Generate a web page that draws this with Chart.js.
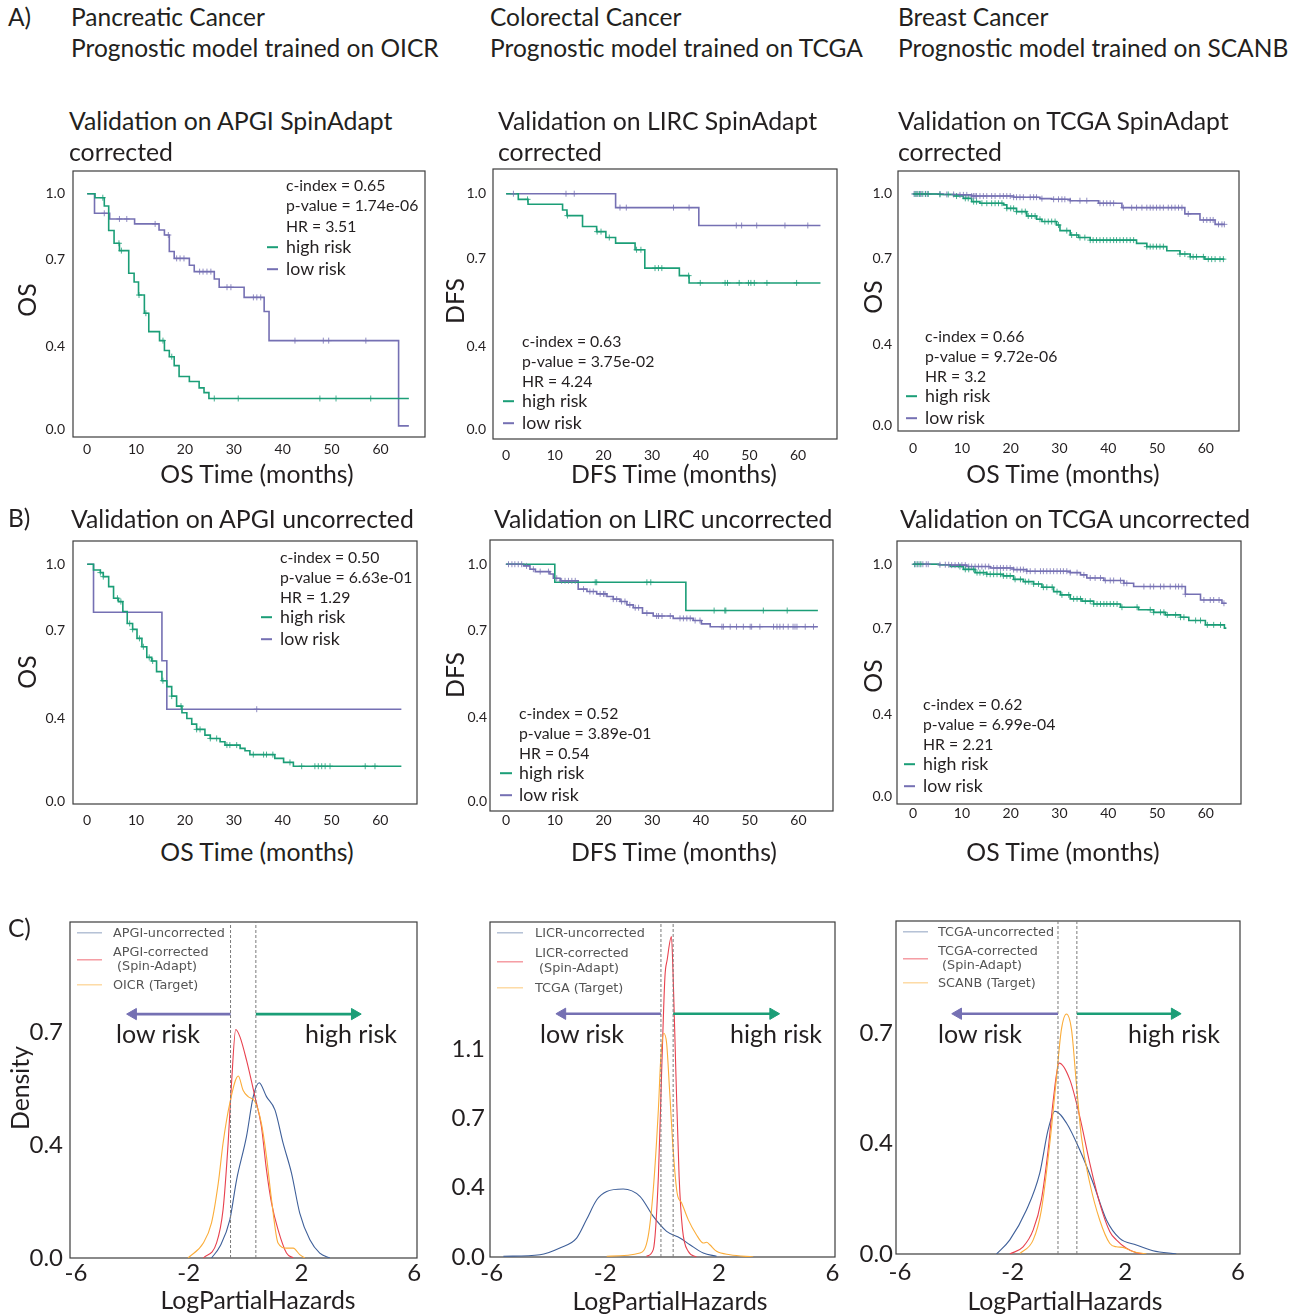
<!DOCTYPE html>
<html>
<head>
<meta charset="utf-8">
<title>SpinAdapt validation</title>
<script src="https://cdn.jsdelivr.net/npm/chart.js@4.4.1/dist/chart.umd.min.js"></script>
<style>
  body { margin: 0; background: #fff; }
  #page { position: relative; width: 1304px; height: 1315px; font-family: Lato, 'Open Sans', sans-serif; color: #231f20; overflow: hidden; }
  .plot { position: absolute; }
  .t { position: absolute; white-space: nowrap; line-height: 1; transform: translateY(-50%); z-index: 2; }
  .c { transform: translate(-50%, -50%); }
  .v { transform: translate(-50%, -50%) rotate(-90deg); }
  .h { font-size: 24.5px; }
  .hv { font-size: 24.8px; }
  .ax { font-size: 24.8px; }
  .st { font-size: 15.8px; }
  .lg { font-size: 17.8px; }
  .risk { font-size: 25px; }
  .kd { font-family: 'DejaVu Sans', sans-serif; font-size: 12.8px; color: #555; }
  .ln { position: absolute; height: 1.6px; transform: translateY(-50%); z-index: 2; }
</style>
</head>
<body>
<div id="page">
  <div class="plot" id="p_a1"><canvas id="a1"></canvas></div>
  <div class="plot" id="p_a2"><canvas id="a2"></canvas></div>
  <div class="plot" id="p_a3"><canvas id="a3"></canvas></div>
  <div class="plot" id="p_b1"><canvas id="b1"></canvas></div>
  <div class="plot" id="p_b2"><canvas id="b2"></canvas></div>
  <div class="plot" id="p_b3"><canvas id="b3"></canvas></div>
  <div class="plot" id="p_c1"><canvas id="c1"></canvas></div>
  <div class="plot" id="p_c2"><canvas id="c2"></canvas></div>
  <div class="plot" id="p_c3"><canvas id="c3"></canvas></div>

  <!-- headings -->
  <div class="t h" style="left:8px;top:17px">A)</div>
  <div class="t h" style="left:71px;top:17px">Pancreatic Cancer</div>
  <div class="t h" style="left:71px;top:48px">Prognostic model trained on OICR</div>
  <div class="t h" style="left:490px;top:17px">Colorectal Cancer</div>
  <div class="t h" style="left:490px;top:48px">Prognostic model trained on TCGA</div>
  <div class="t h" style="left:898px;top:17px">Breast Cancer</div>
  <div class="t h" style="left:898px;top:48px">Prognostic model trained on SCANB</div>

  <div class="t hv" style="left:69px;top:121px">Validation on APGI SpinAdapt</div>
  <div class="t hv" style="left:69px;top:152px">corrected</div>
  <div class="t hv" style="left:498px;top:121px">Validation on LIRC SpinAdapt</div>
  <div class="t hv" style="left:498px;top:152px">corrected</div>
  <div class="t hv" style="left:898px;top:121px">Validation on TCGA SpinAdapt</div>
  <div class="t hv" style="left:898px;top:152px">corrected</div>

  <div class="t h" style="left:8px;top:518px">B)</div>
  <div class="t hv" style="left:71px;top:519px">Validation on APGI uncorrected</div>
  <div class="t hv" style="left:494px;top:519px">Validation on LIRC uncorrected</div>
  <div class="t hv" style="left:900px;top:519px">Validation on TCGA uncorrected</div>

  <div class="t h" style="left:8px;top:928px">C)</div>

  <!-- axis titles -->
  <div class="t ax v" style="left:27px;top:300px">OS</div>
  <div class="t ax v" style="left:455px;top:301px">DFS</div>
  <div class="t ax v" style="left:873px;top:297px">OS</div>
  <div class="t ax v" style="left:27px;top:672px">OS</div>
  <div class="t ax v" style="left:455px;top:675px">DFS</div>
  <div class="t ax v" style="left:873px;top:676px">OS</div>
  <div class="t ax v" style="left:20px;top:1088px">Density</div>

  <div class="t ax c" style="left:257px;top:474px">OS Time (months)</div>
  <div class="t ax c" style="left:674px;top:474px">DFS Time (months)</div>
  <div class="t ax c" style="left:1063px;top:474px">OS Time (months)</div>
  <div class="t ax c" style="left:257px;top:852px">OS Time (months)</div>
  <div class="t ax c" style="left:674px;top:852px">DFS Time (months)</div>
  <div class="t ax c" style="left:1063px;top:852px">OS Time (months)</div>
  <div class="t ax c" style="left:258px;top:1300px">LogPartialHazards</div>
  <div class="t ax c" style="left:670px;top:1301px">LogPartialHazards</div>
  <div class="t ax c" style="left:1065px;top:1301px">LogPartialHazards</div>

  <!-- KM statistics and legends -->
  <div class="t st" style="left:286px;top:185px">c-index = 0.65</div>
  <div class="t st" style="left:286px;top:205px">p-value = 1.74e-06</div>
  <div class="t st" style="left:286px;top:226px">HR = 3.51</div>
  <div class="ln" style="left:267px;top:247px;width:11px;background:#1b9e77"></div>
  <div class="t lg" style="left:286px;top:247px">high risk</div>
  <div class="ln" style="left:267px;top:269px;width:11px;background:#7570b3"></div>
  <div class="t lg" style="left:286px;top:269px">low risk</div>

  <div class="t st" style="left:522px;top:341px">c-index = 0.63</div>
  <div class="t st" style="left:522px;top:361px">p-value = 3.75e-02</div>
  <div class="t st" style="left:522px;top:381px">HR = 4.24</div>
  <div class="ln" style="left:503px;top:401px;width:11px;background:#1b9e77"></div>
  <div class="t lg" style="left:522px;top:401px">high risk</div>
  <div class="ln" style="left:503px;top:423px;width:11px;background:#7570b3"></div>
  <div class="t lg" style="left:522px;top:423px">low risk</div>

  <div class="t st" style="left:925px;top:336px">c-index = 0.66</div>
  <div class="t st" style="left:925px;top:356px">p-value = 9.72e-06</div>
  <div class="t st" style="left:925px;top:376px">HR = 3.2</div>
  <div class="ln" style="left:906px;top:396px;width:11px;background:#1b9e77"></div>
  <div class="t lg" style="left:925px;top:396px">high risk</div>
  <div class="ln" style="left:906px;top:418px;width:11px;background:#7570b3"></div>
  <div class="t lg" style="left:925px;top:418px">low risk</div>

  <div class="t st" style="left:280px;top:557px">c-index = 0.50</div>
  <div class="t st" style="left:280px;top:577px">p-value = 6.63e-01</div>
  <div class="t st" style="left:280px;top:597px">HR = 1.29</div>
  <div class="ln" style="left:261px;top:617px;width:11px;background:#1b9e77"></div>
  <div class="t lg" style="left:280px;top:617px">high risk</div>
  <div class="ln" style="left:261px;top:639px;width:11px;background:#7570b3"></div>
  <div class="t lg" style="left:280px;top:639px">low risk</div>

  <div class="t st" style="left:519px;top:713px">c-index = 0.52</div>
  <div class="t st" style="left:519px;top:733px">p-value = 3.89e-01</div>
  <div class="t st" style="left:519px;top:753px">HR = 0.54</div>
  <div class="ln" style="left:500px;top:773px;width:12px;background:#1b9e77"></div>
  <div class="t lg" style="left:519px;top:773px">high risk</div>
  <div class="ln" style="left:500px;top:795px;width:12px;background:#7570b3"></div>
  <div class="t lg" style="left:519px;top:795px">low risk</div>

  <div class="t st" style="left:923px;top:704px">c-index = 0.62</div>
  <div class="t st" style="left:923px;top:724px">p-value = 6.99e-04</div>
  <div class="t st" style="left:923px;top:744px">HR = 2.21</div>
  <div class="ln" style="left:904px;top:764px;width:11px;background:#1b9e77"></div>
  <div class="t lg" style="left:923px;top:764px">high risk</div>
  <div class="ln" style="left:904px;top:786px;width:11px;background:#7570b3"></div>
  <div class="t lg" style="left:923px;top:786px">low risk</div>

  <!-- density legends -->
  <div class="ln" style="left:77px;top:933px;width:25px;height:1.3px;background:#8fa1c1"></div>
  <div class="t kd" style="left:113px;top:933px">APGI-uncorrected</div>
  <div class="ln" style="left:77px;top:960px;width:25px;height:1.3px;background:#f06b76"></div>
  <div class="t kd" style="left:113px;top:952px">APGI-corrected</div>
  <div class="t kd" style="left:113px;top:966px">&nbsp;(Spin-Adapt)</div>
  <div class="ln" style="left:77px;top:985px;width:25px;height:1.3px;background:#fcc878"></div>
  <div class="t kd" style="left:113px;top:985px">OICR (Target)</div>

  <div class="ln" style="left:497px;top:933px;width:26px;height:1.3px;background:#8fa1c1"></div>
  <div class="t kd" style="left:535px;top:933px">LICR-uncorrected</div>
  <div class="ln" style="left:497px;top:962px;width:26px;height:1.3px;background:#f06b76"></div>
  <div class="t kd" style="left:535px;top:953px">LICR-corrected</div>
  <div class="t kd" style="left:535px;top:968px">&nbsp;(Spin-Adapt)</div>
  <div class="ln" style="left:497px;top:988px;width:26px;height:1.3px;background:#fcc878"></div>
  <div class="t kd" style="left:535px;top:988px">TCGA (Target)</div>

  <div class="ln" style="left:903px;top:932px;width:25px;height:1.3px;background:#8fa1c1"></div>
  <div class="t kd" style="left:938px;top:932px">TCGA-uncorrected</div>
  <div class="ln" style="left:903px;top:959px;width:25px;height:1.3px;background:#f06b76"></div>
  <div class="t kd" style="left:938px;top:951px">TCGA-corrected</div>
  <div class="t kd" style="left:938px;top:965px">&nbsp;(Spin-Adapt)</div>
  <div class="ln" style="left:903px;top:983px;width:25px;height:1.3px;background:#fcc878"></div>
  <div class="t kd" style="left:938px;top:983px">SCANB (Target)</div>

  <div class="t risk" style="left:116px;top:1033px">low risk</div>
  <div class="t risk" style="left:305px;top:1033px">high risk</div>
  <div class="t risk" style="left:540px;top:1033px">low risk</div>
  <div class="t risk" style="left:730px;top:1033px">high risk</div>
  <div class="t risk" style="left:938px;top:1033px">low risk</div>
  <div class="t risk" style="left:1128px;top:1033px">high risk</div>
</div>

<script>
// ---- ticks ----
const kmXTicks = [0, 10, 20, 30, 40, 50, 60];
const kmYTicks = [0, 0.353, 0.723, 1.0];
const kmYLabels = ['0.0', '0.4', '0.7', '1.0'];
const kdXTicks = [-6, -2, 2, 6];
const kdYTicks = [0, 0.367, 0.733];
const kdYLabels = ['0.0', '0.4', '0.7'];
const kdYTicks2 = [0, 0.367, 0.733, 1.1];
const kdYLabels2 = ['0.0', '0.4', '0.7', '1.1'];

// ---- A) SpinAdapt corrected: Kaplan-Meier steps (time in months, survival) + censor times ----
const a1HighT = [0, 1.6, 3.5, 4.4, 5.5, 6.6, 8.5, 9.6, 10.5, 11.7, 12.6, 14.8, 15.8, 16.8, 17.8, 18.8, 20.9, 22.9, 23.9, 24.9, 65.8];
const a1HighS = [1.0, 0.983, 0.948, 0.844, 0.790, 0.759, 0.663, 0.626, 0.571, 0.494, 0.416, 0.378, 0.336, 0.310, 0.272, 0.226, 0.205, 0.178, 0.158, 0.133, 0.133];
const a1HighC = [3.2, 6.5, 7.0, 10.6, 12.0, 15.5, 17.3, 26.0, 30.9, 47.6, 50.9, 58.0];
const a1LowT = [0, 1.5, 4.6, 9.7, 14.7, 15.8, 16.8, 17.8, 20.9, 21.9, 26.0, 27.0, 32.1, 36.2, 37.2, 63.7, 65.8];
const a1LowS = [1.0, 0.917, 0.893, 0.872, 0.846, 0.825, 0.755, 0.726, 0.697, 0.670, 0.639, 0.604, 0.561, 0.501, 0.378, 0.017, 0.017];
const a1LowC = [3.5, 6.6, 8.1, 13.9, 16.6, 18.3, 19.0, 19.8, 23.0, 23.7, 24.5, 25.3, 28.6, 29.4, 34.0, 34.7, 35.5, 42.5, 48.3, 49.4, 57.0];

const a2HighT = [0, 2.5, 4.5, 11.6, 12.5, 15.7, 18.6, 20.5, 22.5, 26.5, 28.5, 35.6, 37.6, 64.6];
const a2HighS = [1.0, 0.976, 0.955, 0.931, 0.907, 0.861, 0.839, 0.814, 0.790, 0.762, 0.684, 0.652, 0.621, 0.621];
const a2HighC = [4.4, 12.6, 18.7, 19.5, 21.2, 26.8, 27.7, 30.6, 31.3, 32.0, 37.5, 39.9, 45.0, 45.5, 47.9, 49.8, 50.3, 51.0, 53.6, 59.7];
const a2LowT = [0, 22.5, 39.6, 64.6];
const a2LowS = [1.0, 0.941, 0.865, 0.865];
const a2LowC = [1.5, 12.3, 14.0, 23.4, 24.7, 34.4, 37.6, 47.3, 48.4, 51.5, 57.3, 62.0];

const a3HighT = [0, 5.5, 8.3, 10.3, 12.0, 13.7, 18.5, 19.2, 21.2, 23.3, 25.3, 26.4, 29.4, 30.1, 32.2, 33.9, 36.3, 45.8, 47.9, 52.0, 54.7, 56.8, 59.8, 63.8];
const a3HighS = [1.0, 0.998, 0.991, 0.981, 0.967, 0.960, 0.953, 0.938, 0.924, 0.905, 0.891, 0.881, 0.866, 0.842, 0.823, 0.812, 0.801, 0.787, 0.773, 0.755, 0.741, 0.729, 0.719, 0.719];
const a3HighC = [0.4, 0.8, 1.3, 1.8, 2.5, 3.1, 5.5, 7.2, 8.9, 10.7, 11.3, 12.4, 13.0, 14.1, 15.1, 16.1, 16.8, 17.5, 18.2, 19.2, 20.0, 20.6, 21.2, 22.3, 23.0, 23.6, 24.3, 25.0, 26.0, 27.0, 27.7, 28.4, 29.1, 29.8, 31.5, 32.5, 33.5, 34.2, 35.2, 36.3, 36.9, 37.6, 38.3, 39.0, 39.7, 40.4, 41.1, 41.7, 42.4, 43.1, 43.8, 44.5, 45.2, 47.9, 48.6, 49.2, 49.9, 50.6, 51.3, 54.7, 55.7, 56.8, 57.4, 58.1, 59.5, 60.5, 61.2, 61.9, 62.9, 63.6];
const a3LowT = [0, 6.2, 9.6, 12.0, 20.6, 26.0, 28.4, 32.2, 38.0, 42.8, 55.7, 58.8, 61.9, 63.8];
const a3LowS = [1.0, 0.998, 0.996, 0.991, 0.986, 0.980, 0.977, 0.971, 0.960, 0.941, 0.914, 0.888, 0.869, 0.869];
const a3LowC = [0.2, 0.6, 1.0, 1.5, 2.0, 2.6, 3.0, 5.5, 6.9, 8.3, 9.6, 10.3, 11.0, 12.0, 12.4, 12.7, 13.0, 13.7, 14.4, 15.1, 16.1, 16.8, 17.8, 18.5, 19.2, 19.9, 20.6, 21.2, 21.9, 22.6, 24.0, 24.7, 25.3, 26.4, 28.8, 29.8, 30.5, 31.1, 32.2, 34.2, 35.6, 38.3, 39.0, 39.7, 40.4, 41.1, 43.1, 44.8, 45.8, 46.9, 47.9, 48.6, 49.2, 49.9, 50.6, 51.3, 52.3, 53.0, 53.7, 54.4, 55.1, 56.4, 59.5, 60.2, 60.9, 61.5, 62.6, 63.3, 63.8];

// ---- B) uncorrected ----
const b1HighT = [0, 1.3, 2.7, 3.3, 4.4, 5.4, 6.4, 7.3, 8.2, 9.3, 10.2, 11.2, 12.2, 13.2, 14.2, 15.3, 16.3, 17.3, 18.3, 19.4, 20.4, 21.4, 22.4, 24.1, 25.2, 27.2, 28.2, 31.3, 32.3, 33.3, 38.4, 40.2, 42.2, 64.3];
const b1HighS = [1.0, 0.976, 0.965, 0.948, 0.906, 0.857, 0.843, 0.801, 0.751, 0.726, 0.688, 0.653, 0.608, 0.593, 0.548, 0.510, 0.485, 0.445, 0.403, 0.375, 0.351, 0.327, 0.305, 0.281, 0.267, 0.253, 0.239, 0.225, 0.215, 0.199, 0.183, 0.166, 0.150, 0.150];
const b1HighC = [2.7, 3.3, 6.2, 6.9, 8.7, 9.3, 10.7, 11.5, 12.7, 13.4, 15.5, 17.3, 19.2, 22.4, 23.1, 25.2, 26.5, 28.6, 29.2, 30.6, 34.0, 36.1, 36.7, 38.0, 41.5, 43.9, 46.6, 47.3, 48.0, 48.7, 49.7, 56.9, 58.9];
const b1LowT = [0, 1.3, 15.3, 16.3, 64.3];
const b1LowS = [1.0, 0.798, 0.594, 0.390, 0.390];
const b1LowC = [34.7];

const b2HighT = [0, 10.0, 36.9, 64.0];
const b2HighS = [1.0, 0.924, 0.805, 0.805];
const b2HighC = [18.3, 18.6, 28.9, 29.7, 42.7, 44.9, 45.1, 52.8, 57.7];
const b2LowT = [0, 3.6, 4.9, 6.0, 9.0, 9.7, 11.1, 14.8, 16.6, 18.6, 20.7, 22.0, 23.4, 24.8, 26.1, 28.0, 30.2, 34.3, 38.4, 40.1, 41.9, 64.0];
const b2LowS = [1.0, 0.993, 0.979, 0.969, 0.959, 0.941, 0.930, 0.895, 0.885, 0.875, 0.864, 0.853, 0.843, 0.829, 0.817, 0.794, 0.782, 0.772, 0.763, 0.749, 0.737, 0.737];
const b2LowC = [0.5, 1.2, 1.8, 2.5, 3.2, 4.2, 5.6, 7.0, 8.7, 10.4, 11.4, 12.1, 12.8, 13.5, 14.2, 15.9, 17.2, 17.9, 19.3, 20.0, 20.3, 22.0, 22.7, 23.7, 24.4, 25.4, 26.5, 27.2, 28.9, 30.9, 31.3, 32.0, 33.7, 35.7, 36.4, 37.1, 37.8, 38.8, 39.8, 44.3, 44.6, 46.0, 47.3, 48.7, 50.1, 50.4, 52.1, 54.9, 55.6, 56.2, 56.9, 57.9, 58.9, 59.3, 59.7, 61.4, 63.1];

const b3HighT = [0, 5.2, 7.6, 10.3, 12.7, 15.1, 18.5, 20.6, 22.6, 24.7, 26.4, 28.8, 30.2, 32.2, 34.6, 37.0, 42.5, 46.2, 49.3, 51.7, 54.8, 56.5, 59.9, 63.8, 64.2];
const b3HighS = [1.0, 0.998, 0.990, 0.978, 0.964, 0.957, 0.950, 0.935, 0.925, 0.915, 0.901, 0.882, 0.868, 0.851, 0.841, 0.829, 0.815, 0.804, 0.793, 0.782, 0.772, 0.758, 0.739, 0.725, 0.725];
const b3HighC = [0.4, 1.0, 1.6, 9.6, 10.7, 11.4, 12.4, 13.1, 13.7, 14.4, 15.1, 15.8, 16.5, 17.2, 17.9, 18.5, 19.2, 19.9, 20.9, 22.0, 23.0, 23.7, 24.7, 25.7, 26.7, 27.4, 28.5, 29.5, 30.5, 31.9, 32.9, 33.6, 34.3, 35.3, 36.3, 37.0, 37.7, 38.4, 39.1, 39.7, 40.4, 41.1, 41.8, 42.8, 45.9, 48.6, 49.3, 50.7, 51.4, 52.1, 53.8, 54.8, 55.5, 57.9, 58.9, 60.3, 61.6, 63.0];
const b3LowT = [0, 5.5, 7.6, 11.0, 15.8, 20.6, 23.3, 32.2, 34.3, 35.6, 39.1, 43.2, 45.2, 55.8, 58.9, 63.3, 64.2];
const b3LowS = [1.0, 0.998, 0.996, 0.990, 0.984, 0.977, 0.970, 0.964, 0.954, 0.941, 0.930, 0.918, 0.904, 0.871, 0.846, 0.832, 0.832];
const b3LowC = [0.3, 0.8, 1.4, 2.0, 2.7, 3.1, 5.5, 6.6, 7.3, 7.9, 8.6, 9.3, 10.0, 10.7, 11.4, 12.0, 12.7, 13.4, 14.1, 14.8, 15.5, 16.5, 17.2, 17.9, 18.5, 19.2, 19.9, 20.6, 21.3, 22.0, 22.6, 23.3, 24.0, 25.0, 26.1, 26.7, 27.4, 28.1, 28.8, 29.5, 30.2, 30.8, 31.5, 32.2, 33.6, 35.0, 36.3, 37.3, 38.4, 39.4, 40.4, 41.1, 42.5, 43.2, 43.8, 47.3, 48.6, 49.3, 50.7, 51.4, 52.7, 53.8, 54.4, 55.1, 55.8, 59.6, 60.9, 61.6, 62.7, 63.7];

// ---- C) density of log partial hazards ----
const c1UncX = [-1.19, -0.89, -0.54, -0.30, 0.05, 0.29, 0.50, 0.76, 1.06, 1.35, 1.65, 1.94, 2.30, 2.65, 3.01];
const c1UncY = [0, 0.038, 0.124, 0.254, 0.394, 0.524, 0.569, 0.524, 0.481, 0.373, 0.275, 0.146, 0.059, 0.016, 0];
const c1CorX = [-1.48, -1.01, -0.78, -0.60, -0.48, -0.33, -0.18, 0.05, 0.35, 0.58, 0.76, 0.94, 1.17, 1.47, 1.71];
const c1CorY = [0, 0.049, 0.157, 0.373, 0.567, 0.742, 0.718, 0.643, 0.524, 0.427, 0.286, 0.178, 0.092, 0.016, 0];
const c1TgtX = [-2.02, -1.48, -1.19, -0.95, -0.78, -0.54, -0.24, -0.07, 0.11, 0.35, 0.58, 0.76, 0.94, 1.17, 1.47, 1.71, 1.94, 2.12];
const c1TgtY = [0, 0.049, 0.114, 0.243, 0.373, 0.503, 0.591, 0.545, 0.524, 0.508, 0.437, 0.329, 0.189, 0.049, 0.032, 0.032, 0.011, 0];
const c1Cut = [-0.515, 0.383];
const c1Arrow = [-3.97, 3.89, 0.792];

const c2UncX = [-5.59, -4.30, -3.60, -3.01, -2.66, -2.30, -1.95, -1.37, -0.78, -0.31, 0.16, 0.63, 0.98, 1.45, 1.92];
const c2UncY = [0.004, 0.012, 0.048, 0.100, 0.198, 0.303, 0.347, 0.360, 0.321, 0.215, 0.136, 0.101, 0.065, 0.021, 0.004];
const c2CorX = [-0.55, -0.31, -0.13, -0.02, 0.10, 0.18, 0.33, 0.39, 0.49, 0.60, 0.72, 0.92, 1.21];
const c2CorY = [0.004, 0.039, 0.427, 0.956, 1.482, 1.574, 1.697, 1.485, 0.956, 0.427, 0.145, 0.030, 0];
const c2TgtX = [-1.95, -0.78, -0.49, -0.31, -0.13, -0.05, 0.06, 0.16, 0.27, 0.39, 0.53, 0.69, 0.92, 1.21, 1.45, 1.57, 1.68, 1.92, 2.39, 3.21];
const c2TgtY = [0.004, 0.021, 0.109, 0.356, 0.782, 1.041, 1.185, 1.132, 0.868, 0.568, 0.339, 0.286, 0.198, 0.118, 0.074, 0.078, 0.065, 0.030, 0.012, 0];
const c2Cut = [-0.04, 0.39];
const c2Arrow = [-3.51, 3.91, 1.288];

const c3UncX = [-2.57, -2.10, -1.51, -1.04, -0.74, -0.50, -0.09, 0.38, 0.86, 1.33, 1.80, 2.39, 2.98, 3.81];
const c3UncY = [0, 0.047, 0.146, 0.268, 0.413, 0.474, 0.435, 0.346, 0.235, 0.113, 0.052, 0.030, 0.011, 0];
const c3CorX = [-2.10, -1.63, -1.27, -0.98, -0.74, -0.56, -0.35, 0.03, 0.38, 0.74, 1.09, 1.45, 1.68, 2.04, 2.39, 2.63];
const c3CorY = [0, 0.024, 0.080, 0.180, 0.346, 0.510, 0.634, 0.579, 0.457, 0.301, 0.169, 0.074, 0.047, 0.019, 0.004, 0];
const c3TgtX = [-1.74, -1.27, -0.98, -0.68, -0.44, -0.27, -0.09, 0.09, 0.26, 0.44, 0.74, 1.09, 1.45, 1.68, 1.92, 2.27, 2.75];
const c3TgtY = [0.002, 0.047, 0.146, 0.368, 0.590, 0.745, 0.797, 0.745, 0.568, 0.390, 0.235, 0.113, 0.035, 0.024, 0.022, 0.008, 0];
const c3Cut = [-0.39, 0.28];
const c3Arrow = [-3.93, 3.75, 0.798];

// ---- colours ----
const GREEN = '#1b9e77';
const PURPLE = '#7570b3';
const BLUE = '#3e5f99';
const RED = '#e8414e';
const ORANGE = '#fbad3a';
const INK = '#231f20';

// ---- layout of each plot box on the page: [left, top, right, bottom] ----
const PAD = 30;   // room above/right of the frame so tick labels never push the plot area
const YW = 60;
const panels = {
  a1: { box: [73, 171, 425, 437], x: [-2.9, 69.1], y: [-0.03, 1.096], xPad: 4, yPad: 8 },
  a2: { box: [493, 169, 837, 439], x: [-2.7, 68.0], y: [-0.042, 1.105], xPad: 8, yPad: 7 },
  a3: { box: [898, 171, 1239, 431], x: [-3.1, 66.8], y: [-0.022, 1.099], xPad: 9, yPad: 6 },
  b1: { box: [73, 541, 417, 804], x: [-2.9, 67.5], y: [-0.009, 1.098], xPad: 8, yPad: 8 },
  b2: { box: [490, 540, 833, 811], x: [-3.3, 67.1], y: [-0.039, 1.102], xPad: 1, yPad: 3 },
  b3: { box: [897, 541, 1241, 804], x: [-3.3, 67.2], y: [-0.032, 1.10], xPad: 1, yPad: 5 },
  c1: { box: [70, 922, 417, 1258], x: [-6.21, 6.10], y: [0, 1.091], xPad: 1, yPad: 7 },
  c2: { box: [490, 922, 835, 1257], x: [-6.06, 6.09], y: [0, 1.774], xPad: 2, yPad: 5 },
  c3: { box: [896, 921, 1240, 1254], x: [-6.14, 6.07], y: [0, 1.106], xPad: 4, yPad: 3 }
};

function stepAt(times, surv, t) {
  let s = surv[0];
  for (let i = 0; i < times.length; i++) {
    if (times[i] <= t) s = surv[i];
  }
  return s;
}

function xy(xs, ys) {
  return xs.map((x, i) => ({ x: x, y: ys[i] }));
}

function censored(times, surv, cens) {
  return cens.map(t => ({ x: t, y: stepAt(times, surv, t) }));
}

const frame = {
  id: 'frame',
  beforeDatasetsDraw(chart) {
    const { ctx, chartArea: a } = chart;
    ctx.save();
    ctx.strokeStyle = '#3d3d3d';
    ctx.lineWidth = 1.2;
    ctx.strokeRect(a.left, a.top, a.width, a.height);
    ctx.restore();
  }
};

function place(id, box, xH) {
  const el = document.getElementById('p_' + id);
  el.style.left = (box[0] - YW) + 'px';
  el.style.top = (box[1] - PAD) + 'px';
  el.style.width = (box[2] - box[0] + YW + PAD) + 'px';
  el.style.height = (box[3] - box[1] + PAD + xH) + 'px';
  return document.getElementById(id);
}

function options(p, xTicks, yTicks, yLabels, size, xH) {
  const font = { family: 'Lato', size: size };
  return {
    responsive: true,
    maintainAspectRatio: false,
    animation: false,
    events: [],
    layout: { padding: { top: PAD, right: PAD, left: 0, bottom: 0 } },
    plugins: { legend: { display: false }, tooltip: { enabled: false } },
    scales: {
      x: {
        type: 'linear',
        min: p.x[0],
        max: p.x[1],
        grid: { display: false, drawTicks: false },
        border: { display: false },
        afterBuildTicks: s => { s.ticks = xTicks.map(v => ({ value: v })); },
        afterFit: s => { s.height = xH; },
        ticks: { padding: p.xPad, font: font, color: INK, autoSkip: false, maxRotation: 0, callback: v => String(v) }
      },
      y: {
        type: 'linear',
        min: p.y[0],
        max: p.y[1],
        grid: { display: false, drawTicks: false },
        border: { display: false },
        afterBuildTicks: s => { s.ticks = yTicks.map(v => ({ value: v })); },
        afterFit: s => { s.width = YW; },
        ticks: { padding: p.yPad, font: font, color: INK, autoSkip: false, callback: (v, i) => yLabels[i] }
      }
    }
  };
}

function km(id, hiT, hiS, hiC, loT, loS, loC) {
  const p = panels[id];
  const canvas = place(id, p.box, 30);
  const line = (data, color) => ({
    data: data, showLine: true, stepped: 'before', borderColor: color, borderWidth: 1.6, pointRadius: 0
  });
  const ticks = (data, color) => ({
    data: data, showLine: false, pointStyle: 'cross', pointRadius: 3,
    pointBorderColor: color + 'cc', pointBackgroundColor: color, pointBorderWidth: 1
  });
  new Chart(canvas, {
    type: 'scatter',
    data: {
      datasets: [
        ticks(censored(hiT, hiS, hiC), GREEN),
        ticks(censored(loT, loS, loC), PURPLE),
        line(xy(hiT, hiS), GREEN),
        line(xy(loT, loS), PURPLE)
      ]
    },
    options: options(p, kmXTicks, kmYTicks, kmYLabels, 14, 30),
    plugins: [frame]
  });
}

function kde(id, unc, cor, tgt, cut, arrow, yTicks, yLabels) {
  const p = panels[id];
  const canvas = place(id, p.box, 34);
  const top = p.y[1];
  const curve = (data, color) => ({
    data: data, showLine: true, borderColor: color, borderWidth: 1.1, pointRadius: 0, cubicInterpolationMode: 'monotone'
  });
  const dashed = x => ({
    data: [{ x: x, y: 0 }, { x: x, y: top }], showLine: true, borderColor: '#7a7a7a', borderWidth: 1, borderDash: [3, 2], pointRadius: 0
  });
  const arrowSet = (from, to, color) => ({
    data: [{ x: from, y: arrow[2] }, { x: to, y: arrow[2] }], showLine: true, borderColor: color, borderWidth: 2.6,
    pointStyle: 'triangle', pointRadius: [0, 6.5], pointRotation: [0, to < from ? -90 : 90],
    pointBackgroundColor: color, pointBorderColor: color, pointBorderWidth: 1
  });
  new Chart(canvas, {
    type: 'scatter',
    data: {
      datasets: [
        arrowSet(cut[0], arrow[0], PURPLE),
        arrowSet(cut[1], arrow[1], GREEN),
        dashed(cut[0]),
        dashed(cut[1]),
        curve(tgt, ORANGE),
        curve(cor, RED),
        curve(unc, BLUE)
      ]
    },
    options: options(p, kdXTicks, yTicks, yLabels, 24, 34),
    plugins: [frame]
  });
}

km('a1', a1HighT, a1HighS, a1HighC, a1LowT, a1LowS, a1LowC);
km('a2', a2HighT, a2HighS, a2HighC, a2LowT, a2LowS, a2LowC);
km('a3', a3HighT, a3HighS, a3HighC, a3LowT, a3LowS, a3LowC);
km('b1', b1HighT, b1HighS, b1HighC, b1LowT, b1LowS, b1LowC);
km('b2', b2HighT, b2HighS, b2HighC, b2LowT, b2LowS, b2LowC);
km('b3', b3HighT, b3HighS, b3HighC, b3LowT, b3LowS, b3LowC);

kde('c1', xy(c1UncX, c1UncY), xy(c1CorX, c1CorY), xy(c1TgtX, c1TgtY), c1Cut, c1Arrow, kdYTicks, kdYLabels);
kde('c2', xy(c2UncX, c2UncY), xy(c2CorX, c2CorY), xy(c2TgtX, c2TgtY), c2Cut, c2Arrow, kdYTicks2, kdYLabels2);
kde('c3', xy(c3UncX, c3UncY), xy(c3CorX, c3CorY), xy(c3TgtX, c3TgtY), c3Cut, c3Arrow, kdYTicks, kdYLabels);
</script>
</body>
</html>
